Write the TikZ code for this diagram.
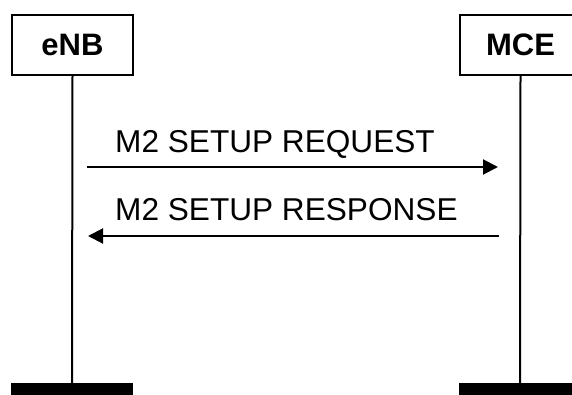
\documentclass[tikz,border=0pt]{standalone}
\usepackage{fontspec}
\setmainfont{Liberation Sans}
\usetikzlibrary{arrows.meta,calc}
\begin{document}
\begin{tikzpicture}[x=1pt,y=-1pt,
  entity/.style={draw,line width=2pt,minimum width=121pt,minimum height=60pt,inner sep=0pt,font=\fontsize{31}{37}\selectfont\bfseries},
  lifeline/.style={line width=2pt},
  bar/.style={fill=black,minimum width=122pt,minimum height=12pt,inner sep=0pt},
  msg/.style={line width=2pt,-{Triangle[length=15pt,width=15pt]}},
  msglabel/.style={anchor=base west,inner sep=0pt,font=\fontsize{31.6}{37}\selectfont}]
\useasboundingbox (0,0) rectangle (572,395);
\clip (0,0) rectangle (572,395);
\node[entity] (enb) at (72.5,45) {eNB};
\node[entity] (mce) at (520.5,45) {MCE};
\node[bar] (enbbar) at (72,389) {};
\node[bar] (mcebar) at (520,389) {};
\draw[lifeline] (enb.south) -- (enbbar.north);
\draw[lifeline] (mce.south) -- (mcebar.north);
\coordinate (r1) at (87,167);
\coordinate (r2) at (498,167);
\coordinate (s1) at (88,236);
\coordinate (s2) at (499,236);
\draw[msg] (r1) -- (r2);
\draw[msg] (s2) -- (s1);
\node[msglabel] (reqlbl) at (115,153) {M2 SETUP REQUEST};
\node[msglabel] (reslbl) at (115,221) {M2 SETUP RESPONSE};
\end{tikzpicture}
\end{document}
